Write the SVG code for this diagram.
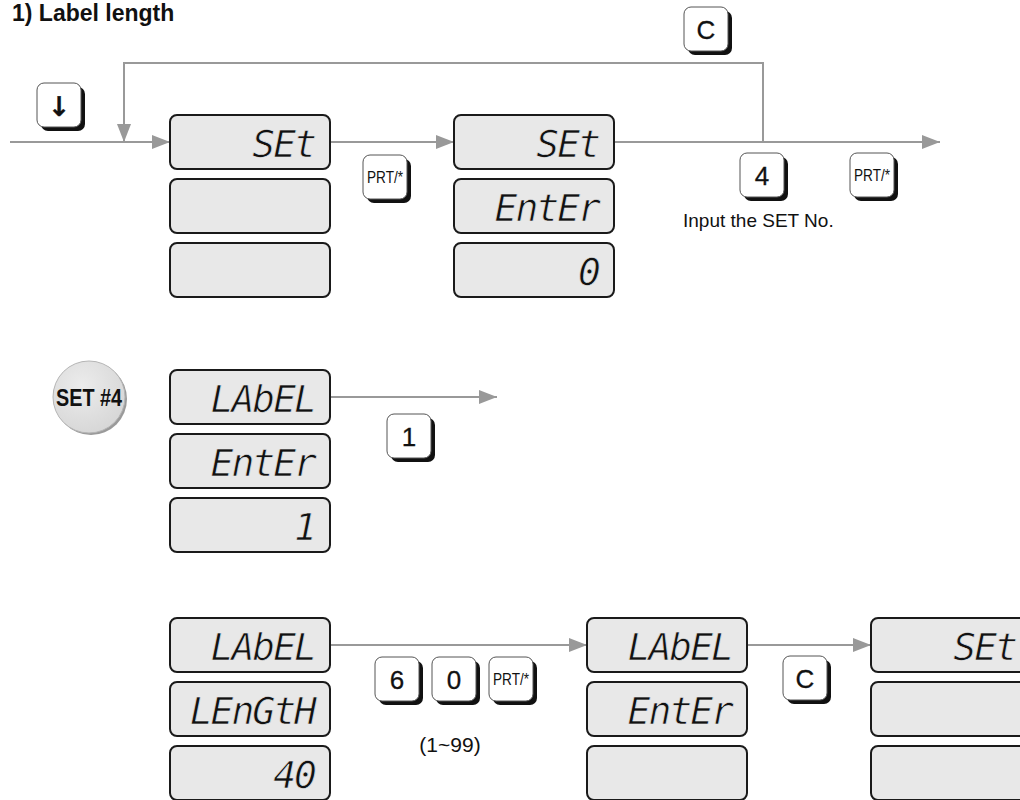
<svg xmlns="http://www.w3.org/2000/svg" width="1020" height="800" viewBox="0 0 1020 800">
<style>
.title{font-family:"Liberation Sans",Arial,sans-serif;font-weight:bold;font-size:23px;fill:#111}
.lbl{font-family:"Liberation Sans",Arial,sans-serif;font-size:19px;fill:#111}
.disp{fill:#e8e8e8;stroke:#1a1a1a;stroke-width:2}
.seg{font-family:"DejaVu Sans Mono","Liberation Mono",monospace;font-style:oblique;font-size:38px;letter-spacing:-2px;fill:#111;stroke:#e8e8e8;stroke-width:0.7;text-anchor:end}
.ksh{fill:#111}
.kb{fill:#fff;stroke:#555;stroke-width:1}
.kt{font-family:"Liberation Sans",Arial,sans-serif;font-size:26px;fill:#111;stroke:#111;stroke-width:0.3;text-anchor:middle}
.kp{font-family:"Liberation Sans",Arial,sans-serif;font-size:16px;fill:#111;text-anchor:middle}
.conn{fill:none;stroke:#999;stroke-width:2}
</style>
<defs>
<marker id="ah" markerUnits="userSpaceOnUse" markerWidth="18" markerHeight="14" refX="18" refY="7" orient="auto">
<path d="M0,0 L18,7 L0,14 z" fill="#999"/>
</marker>
<radialGradient id="cg" cx="0.4" cy="0.35" r="0.7">
<stop offset="0" stop-color="#ececec"/>
<stop offset="1" stop-color="#d6d6d6"/>
</radialGradient>
</defs>

<text class="title" x="12" y="21">1) Label length</text>

<g id="connectors">
<line class="conn" x1="10" y1="142" x2="170" y2="142" marker-end="url(#ah)"/>
<polyline class="conn" points="763,142 763,63 124,63 124,142" marker-end="url(#ah)"/>
<line class="conn" x1="330" y1="142" x2="454" y2="142" marker-end="url(#ah)"/>
<line class="conn" x1="614" y1="142" x2="940" y2="142" marker-end="url(#ah)"/>
<line class="conn" x1="330" y1="397" x2="497" y2="397" marker-end="url(#ah)"/>
<line class="conn" x1="330" y1="645" x2="587" y2="645" marker-end="url(#ah)"/>
<line class="conn" x1="747" y1="645" x2="871" y2="645" marker-end="url(#ah)"/>
</g>

<g id="disp-a1">
<rect class="disp" x="170" y="115" width="160" height="54" rx="7"/>
<text class="seg" x="315" y="157">SEt</text>
<rect class="disp" x="170" y="179" width="160" height="54" rx="7"/>
<rect class="disp" x="170" y="243" width="160" height="54" rx="7"/>
</g>
<g id="disp-a2">
<rect class="disp" x="454" y="115" width="160" height="54" rx="7"/>
<text class="seg" x="599" y="157">SEt</text>
<rect class="disp" x="454" y="179" width="160" height="54" rx="7"/>
<text class="seg" x="599" y="221">EntEr</text>
<rect class="disp" x="454" y="243" width="160" height="54" rx="7"/>
<text class="seg" x="599" y="285">0</text>
</g>

<g id="disp-b1">
<rect class="disp" x="170" y="370" width="160" height="54" rx="7"/>
<text class="seg" x="315" y="412">LAbEL</text>
<rect class="disp" x="170" y="434" width="160" height="54" rx="7"/>
<text class="seg" x="315" y="476">EntEr</text>
<rect class="disp" x="170" y="498" width="160" height="54" rx="7"/>
<text class="seg" x="315" y="540">1</text>
</g>

<g id="disp-c1">
<rect class="disp" x="170" y="618" width="160" height="54" rx="7"/>
<text class="seg" x="315" y="660">LAbEL</text>
<rect class="disp" x="170" y="682" width="160" height="54" rx="7"/>
<text class="seg" x="315" y="724">LEnGtH</text>
<rect class="disp" x="170" y="746" width="160" height="54" rx="7"/>
<text class="seg" x="315" y="788">40</text>
</g>
<g id="disp-c2">
<rect class="disp" x="587" y="618" width="160" height="54" rx="7"/>
<text class="seg" x="732" y="660">LAbEL</text>
<rect class="disp" x="587" y="682" width="160" height="54" rx="7"/>
<text class="seg" x="732" y="724">EntEr</text>
<rect class="disp" x="587" y="746" width="160" height="54" rx="7"/>
</g>
<g id="disp-c3">
<rect class="disp" x="871" y="618" width="160" height="54" rx="7"/>
<text class="seg" x="1016" y="660">SEt</text>
<rect class="disp" x="871" y="682" width="160" height="54" rx="7"/>
<rect class="disp" x="871" y="746" width="160" height="54" rx="7"/>
</g>

<g id="key-down" transform="translate(37,83)">
<rect class="ksh" x="4" y="4" width="44" height="44" rx="7"/>
<rect class="kb" x="0" y="0" width="44" height="44" rx="7"/>
<text class="kt" x="22" y="33" style="font-family:'DejaVu Sans',sans-serif;font-weight:bold;font-size:27px">↓</text>
</g>
<g id="key-prt1" transform="translate(363,155)">
<rect class="ksh" x="4" y="4" width="44" height="44" rx="7"/>
<rect class="kb" x="0" y="0" width="44" height="44" rx="7"/>
<text class="kp" x="22" y="28" textLength="36" lengthAdjust="spacingAndGlyphs">PRT/*</text>
</g>
<g id="key-c1" transform="translate(684,7)">
<rect class="ksh" x="4" y="4" width="44" height="44" rx="7"/>
<rect class="kb" x="0" y="0" width="44" height="44" rx="7"/>
<text class="kt" x="22" y="32">C</text>
</g>
<g id="key-4" transform="translate(740,153)">
<rect class="ksh" x="4" y="4" width="44" height="44" rx="7"/>
<rect class="kb" x="0" y="0" width="44" height="44" rx="7"/>
<text class="kt" x="22" y="32">4</text>
</g>
<g id="key-prt2" transform="translate(850,153)">
<rect class="ksh" x="4" y="4" width="44" height="44" rx="7"/>
<rect class="kb" x="0" y="0" width="44" height="44" rx="7"/>
<text class="kp" x="22" y="28" textLength="36" lengthAdjust="spacingAndGlyphs">PRT/*</text>
</g>
<text class="lbl" x="683" y="227">Input the SET No.</text>

<g id="set4">
<circle cx="91" cy="399" r="36" fill="#9a9a9a"/>
<circle cx="89" cy="397" r="36" fill="url(#cg)" stroke="#b5b5b5" stroke-width="1"/>
<text x="89" y="406" text-anchor="middle" textLength="66" lengthAdjust="spacingAndGlyphs" style="font-family:'Liberation Sans',Arial,sans-serif;font-weight:bold;font-size:24px;fill:#111">SET #4</text>
</g>

<g id="key-1" transform="translate(387,414)">
<rect class="ksh" x="4" y="4" width="44" height="44" rx="7"/>
<rect class="kb" x="0" y="0" width="44" height="44" rx="7"/>
<text class="kt" x="22" y="32">1</text>
</g>

<g id="key-6" transform="translate(375,657)">
<rect class="ksh" x="4" y="4" width="44" height="44" rx="7"/>
<rect class="kb" x="0" y="0" width="44" height="44" rx="7"/>
<text class="kt" x="22" y="32">6</text>
</g>
<g id="key-0" transform="translate(432,657)">
<rect class="ksh" x="4" y="4" width="44" height="44" rx="7"/>
<rect class="kb" x="0" y="0" width="44" height="44" rx="7"/>
<text class="kt" x="22" y="32">0</text>
</g>
<g id="key-prt3" transform="translate(489,657)">
<rect class="ksh" x="4" y="4" width="44" height="44" rx="7"/>
<rect class="kb" x="0" y="0" width="44" height="44" rx="7"/>
<text class="kp" x="22" y="28" textLength="36" lengthAdjust="spacingAndGlyphs">PRT/*</text>
</g>
<text class="lbl" x="450" y="752" text-anchor="middle" style="font-size:21px">(1~99)</text>

<g id="key-c2" transform="translate(783,656)">
<rect class="ksh" x="4" y="4" width="44" height="44" rx="7"/>
<rect class="kb" x="0" y="0" width="44" height="44" rx="7"/>
<text class="kt" x="22" y="32">C</text>
</g>
</svg>
